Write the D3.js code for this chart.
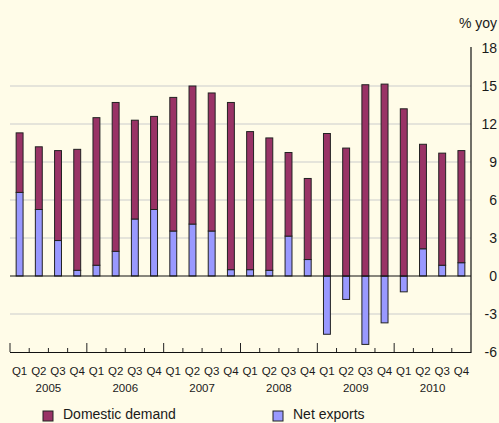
<!DOCTYPE html>
<html>
<head>
<meta charset="utf-8">
<script src="https://cdn.jsdelivr.net/npm/d3@7"></script>
<style>
  html, body { margin: 0; padding: 0; background: #fffce8; }
  svg { display: block; }
  text { font-family: "Liberation Sans", Arial, Helvetica, sans-serif; fill: #1a1a1a; }
</style>
</head>
<body>
<svg id="chart" width="499" height="423"></svg>
<script>
// ---- Data ----
const quarters = ["Q1","Q2","Q3","Q4","Q1","Q2","Q3","Q4","Q1","Q2","Q3","Q4",
                  "Q1","Q2","Q3","Q4","Q1","Q2","Q3","Q4","Q1","Q2","Q3","Q4"];
const years = ["2005","2006","2007","2008","2009","2010"];
const domesticDemand = [4.7, 4.95, 7.1, 9.55, 11.65, 11.75, 7.8, 7.35,
                        10.55, 10.9, 10.9, 13.2, 10.9, 10.45, 6.6, 6.4,
                        11.25, 10.1, 15.1, 15.15, 13.2, 8.25, 8.85, 8.85];
const netExports = [6.6, 5.25, 2.8, 0.45, 0.85, 1.95, 4.5, 5.25,
                    3.55, 4.1, 3.55, 0.5, 0.5, 0.45, 3.15, 1.3,
                    -4.6, -1.85, -5.4, -3.7, -1.25, 2.15, 0.85, 1.05];
const yTicks = [-6, -3, 0, 3, 6, 9, 12, 15, 18];
const gridTicks = [-3, 3, 6, 9, 12, 15];
const seriesNames = ["Domestic demand", "Net exports"];
const colors = { dd: "#993366", ne: "#9999ff" };

// ---- Layout ----
const svg = d3.select("#chart");
const pLeft = 10, pRight = 471, pTop = 48, pBottom = 352;

const rows = quarters.map((q, i) => ({ i, ne: netExports[i], dd: domesticDemand[i] }));

const x = d3.scaleBand().domain(d3.range(quarters.length))
  .range([pLeft, pRight]).paddingInner(0.64).paddingOuter(0.32);
const step = x.step();
const y = d3.scaleLinear().domain([-6, 18]).range([pBottom, pTop]);

// background
svg.append("rect").attr("width", 499).attr("height", 423).attr("fill", "#fffce8");

// gridlines
svg.append("g").selectAll("line").data(gridTicks).join("line")
  .attr("x1", pLeft).attr("x2", pRight)
  .attr("y1", d => y(d)).attr("y2", d => y(d))
  .attr("stroke", "#dcdcd6").attr("stroke-width", 1.5);

// stacked bars
const stack = d3.stack().keys(["ne", "dd"]).offset(d3.stackOffsetDiverging);
const series = stack(rows);
const colorFor = { ne: colors.ne, dd: colors.dd };

svg.append("g").selectAll("g").data(series).join("g")
  .attr("fill", s => colorFor[s.key])
  .selectAll("rect").data(s => s).join("rect")
  .attr("x", d => x(d.data.i))
  .attr("width", x.bandwidth())
  .attr("y", d => y(Math.max(d[0], d[1])))
  .attr("height", d => Math.abs(y(d[0]) - y(d[1])))
  .attr("stroke", "#222").attr("stroke-width", 1);

// zero line
svg.append("line").attr("x1", pLeft).attr("x2", pRight)
  .attr("y1", y(0)).attr("y2", y(0)).attr("stroke", "#111").attr("stroke-width", 1);

// bottom axis line and ticks
svg.append("line").attr("x1", pLeft).attr("x2", pRight)
  .attr("y1", pBottom + 0.5).attr("y2", pBottom + 0.5).attr("stroke", "#111").attr("stroke-width", 1.2);
svg.append("g").selectAll("line").data(d3.range(quarters.length)).join("line")
  .attr("x1", i => x(i) - (step - x.bandwidth()) / 2)
  .attr("x2", i => x(i) - (step - x.bandwidth()) / 2)
  .attr("y1", pBottom)
  .attr("y2", i => i % 4 === 0 ? pBottom - 9 : pBottom - 4)
  .attr("stroke", "#222").attr("stroke-width", 1);

// right axis line
svg.append("line").attr("x1", pRight).attr("x2", pRight)
  .attr("y1", pTop - 1).attr("y2", pBottom + 1).attr("stroke", "#111").attr("stroke-width", 1.2);

// right axis labels
svg.append("g").selectAll("text").data(yTicks).join("text")
  .attr("x", 497).attr("y", d => y(d)).attr("dy", "0.36em")
  .attr("text-anchor", "end").attr("font-size", 14)
  .text(d => d < 0 ? "-" + Math.abs(d) : d);

svg.append("text").attr("x", 497).attr("y", 28).attr("text-anchor", "end")
  .attr("font-size", 14).text("% yoy");

// quarter labels
svg.append("g").selectAll("text").data(quarters).join("text")
  .attr("x", (d, i) => x(i) + x.bandwidth() / 2).attr("y", 375)
  .attr("text-anchor", "middle").attr("font-size", 11.5)
  .text(d => d);

// year labels
svg.append("g").selectAll("text").data(years).join("text")
  .attr("x", (d, k) => pLeft + (4 * k + 2) * step).attr("y", 392)
  .attr("text-anchor", "middle").attr("font-size", 11.5)
  .text(d => d);

// legend
const legend = [
  { name: seriesNames[0], color: colors.dd, x: 43 },
  { name: seriesNames[1], color: colors.ne, x: 273 }
];
const lg = svg.append("g").selectAll("g").data(legend).join("g");
lg.append("rect").attr("x", d => d.x).attr("y", 411).attr("width", 10).attr("height", 10)
  .attr("fill", d => d.color).attr("stroke", "#222").attr("stroke-width", 1);
lg.append("text").attr("x", d => d.x + 20).attr("y", 419).attr("font-size", 14)
  .text(d => d.name);
</script>
</body>
</html>
